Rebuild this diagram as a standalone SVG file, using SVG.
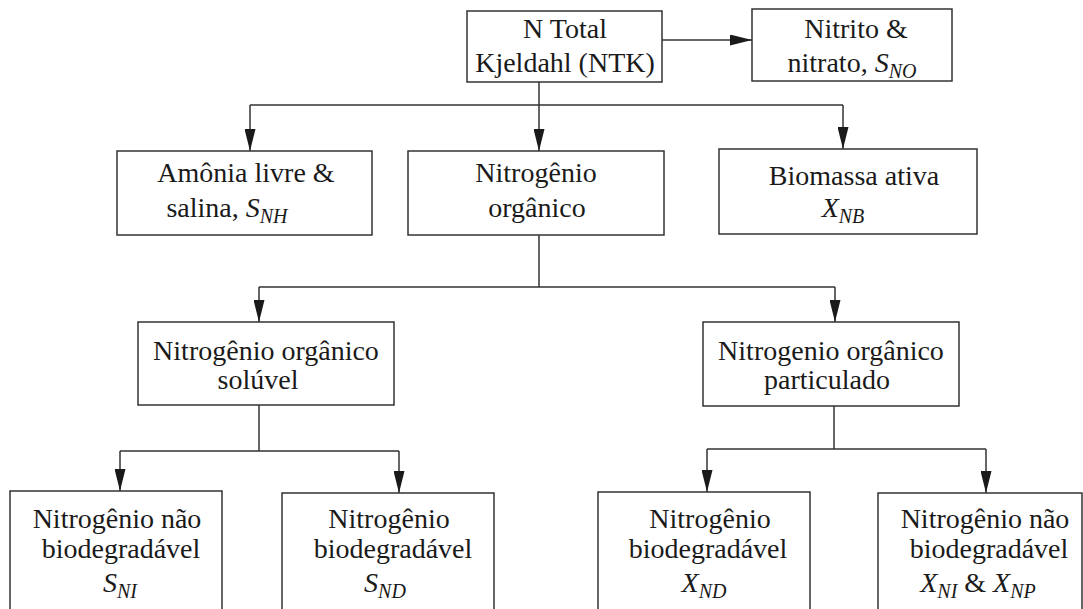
<svg xmlns="http://www.w3.org/2000/svg" width="1083" height="609" viewBox="0 0 1083 609">
  <style>
    .box { fill: #ffffff; stroke: #333333; stroke-width: 1.5; }
    .wire { fill: none; stroke: #333333; stroke-width: 1.5; }
    .arrow { fill: none; stroke: #333333; stroke-width: 1.5; marker-end: url(#head); }
  </style>
  <defs>
    <marker id="head" viewBox="0 0 22 11" refX="22" refY="5.5" markerWidth="22" markerHeight="11" markerUnits="userSpaceOnUse" orient="auto">
      <path d="M0,0 L22,5.5 L0,11 z" fill="#1a1a1a"/>
    </marker>
  </defs>

  <rect width="1083" height="609" fill="#ffffff"/>

  <!-- connectors -->
  <g id="connectors">
    <path class="arrow" d="M662,40 H752"/>
    <path class="wire" d="M539,82 V105 M250,105 H843"/>
    <path class="arrow" d="M250,105 V151"/>
    <path class="arrow" d="M539,105 V151"/>
    <path class="arrow" d="M843,105 V149"/>
    <path class="wire" d="M539,235 V287 M259,287 H835"/>
    <path class="arrow" d="M259,287 V322"/>
    <path class="arrow" d="M835,287 V322"/>
    <path class="wire" d="M259,405 V451 M120,451 H399"/>
    <path class="arrow" d="M120,451 V491"/>
    <path class="arrow" d="M399,451 V493"/>
    <path class="wire" d="M834,406 V449 M707,449 H986"/>
    <path class="arrow" d="M707,449 V492"/>
    <path class="arrow" d="M986,449 V493"/>
  </g>

  <!-- all node labels share one serif face -->
  <g font-family="Liberation Serif, Times New Roman, DejaVu Serif, serif" font-size="28" fill="#1a1a1a" text-anchor="middle">

  <g id="ntk">
    <rect class="box" x="467" y="11" width="195" height="71"/>
    <text x="565" y="38">N Total</text>
    <text x="565" y="72">Kjeldahl (NTK)</text>
  </g>

  <g id="nitrito">
    <rect class="box" x="752" y="9" width="200" height="72"/>
    <text x="856" y="38">Nitrito &amp;</text>
    <text x="852" y="72">nitrato, <tspan font-style="italic">S</tspan><tspan font-style="italic" font-size="20" dy="6">NO</tspan></text>
  </g>

  <g id="amonia">
    <rect class="box" x="117" y="151" width="255" height="84"/>
    <text x="246" y="182">Amônia livre &amp;</text>
    <text x="227" y="217">salina, <tspan font-style="italic">S</tspan><tspan font-style="italic" font-size="20" dy="6">NH</tspan></text>
  </g>

  <g id="organico">
    <rect class="box" x="408" y="151" width="256" height="84"/>
    <text x="536" y="182">Nitrogênio</text>
    <text x="537" y="217">orgânico</text>
  </g>

  <g id="biomassa">
    <rect class="box" x="719" y="149" width="258" height="85"/>
    <text x="854" y="185">Biomassa ativa</text>
    <text x="843" y="217"><tspan font-style="italic">X</tspan><tspan font-style="italic" font-size="20" dy="6">NB</tspan></text>
  </g>

  <g id="soluvel">
    <rect class="box" x="138" y="322" width="256" height="83"/>
    <text x="266" y="360">Nitrogênio orgânico</text>
    <text x="258" y="389">solúvel</text>
  </g>

  <g id="particulado">
    <rect class="box" x="703" y="322" width="256" height="84"/>
    <text x="831" y="360">Nitrogenio orgânico</text>
    <text x="827" y="389">particulado</text>
  </g>

  <g id="s-ni">
    <rect class="box" x="10" y="491" width="212" height="130"/>
    <text x="117" y="528">Nitrogênio não</text>
    <text x="121" y="558">biodegradável</text>
    <text x="120" y="592"><tspan font-style="italic">S</tspan><tspan font-style="italic" font-size="20" dy="6">NI</tspan></text>
  </g>

  <g id="s-nd">
    <rect class="box" x="282" y="493" width="212" height="130"/>
    <text x="389" y="528">Nitrogênio</text>
    <text x="393" y="558">biodegradável</text>
    <text x="385" y="592"><tspan font-style="italic">S</tspan><tspan font-style="italic" font-size="20" dy="6">ND</tspan></text>
  </g>

  <g id="x-nd">
    <rect class="box" x="598" y="492" width="212" height="130"/>
    <text x="710" y="528">Nitrogênio</text>
    <text x="708" y="558">biodegradável</text>
    <text x="704" y="592"><tspan font-style="italic">X</tspan><tspan font-style="italic" font-size="20" dy="6">ND</tspan></text>
  </g>

  <g id="x-ni-np">
    <rect class="box" x="878" y="493" width="204" height="130"/>
    <text x="985" y="528">Nitrogênio não</text>
    <text x="989" y="558">biodegradável</text>
    <text x="978" y="592"><tspan font-style="italic">X</tspan><tspan font-style="italic" font-size="20" dy="6">NI</tspan><tspan dy="-6"> &amp; </tspan><tspan font-style="italic">X</tspan><tspan font-style="italic" font-size="20" dy="6">NP</tspan></text>
  </g>

  </g>
</svg>
